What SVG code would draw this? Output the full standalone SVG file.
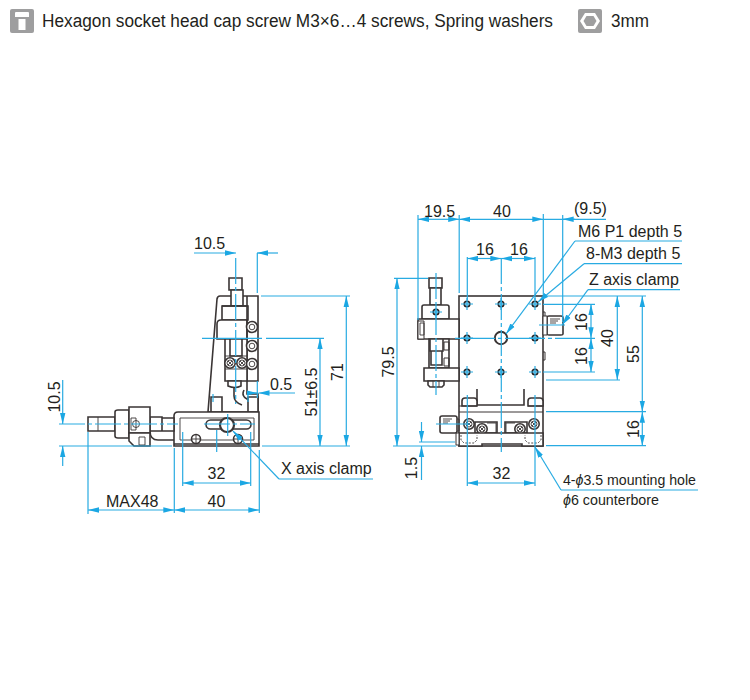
<svg xmlns="http://www.w3.org/2000/svg" width="750" height="700" viewBox="0 0 750 700">
<style>
text{font-family:"Liberation Sans",Arial,sans-serif;fill:#231f20;font-size:16px}
.h{font-size:18px}
.n{font-size:15px}
.i{font-style:italic}
.d{fill:#fff;stroke:#3a3535;stroke-width:1.6}
.o{fill:none;stroke:#3a3535;stroke-width:1.6}
.t{fill:none;stroke:#3a3535;stroke-width:.9}
.b{fill:none;stroke:#29abe2;stroke-width:1.2}
.c{fill:none;stroke:#29abe2;stroke-width:1.2;stroke-dasharray:26 3 4 3}
.a{fill:none;stroke:#29abe2;stroke-width:1.2;marker-end:url(#ah)}
</style>
<defs>
<marker id="ah" markerUnits="userSpaceOnUse" markerWidth="12" markerHeight="6" refX="11" refY="3" orient="auto"><path d="M0 .3L11 3L0 5.700Z" fill="#1ba7e3"/></marker>
<g id="sc"><circle r="5.200" class="d"/><circle r="3" class="t"/><path d="M-2-2L2 2M-2 2L2-2" class="t"/></g>
<g id="sp"><circle r="4.500" class="d"/><path d="M-4.500 0H4.500M0-4.500V4.500" class="t"/></g>
<g id="ro"><circle r="5.500" class="d" stroke-width="2"/><circle r="2.800" class="t"/></g>
<g id="ho"><circle r="2.800" fill="#bfe6f6" stroke="#231f20" stroke-width="1.600"/><path d="M-6 0H6M0-6V6" class="b"/></g>
</defs>
<g id="icon-screw"><rect x="10" y="9" width="24" height="24" rx="2" fill="#9e9e9f"/><path d="M16 12h12a1 1 0 0 1 1 1v4H15v-4a1 1 0 0 1 1-1zM18.500 19h7v11h-7z" fill="#fff"/></g>
<g id="icon-hex"><rect x="578" y="9" width="24" height="24" rx="2" fill="#9e9e9f"/><path d="M585 13h10l5 8-5 8h-10l-5-8z" fill="#fff"/><path d="M586.500 16h7l3 5-3 5h-7l-3-5z" fill="#9e9e9f"/></g>
<g id="header-text"><text class="h" x="42" y="27" textLength="511" lengthAdjust="spacingAndGlyphs">Hexagon socket head cap screw M3×6…4 screws, Spring washers</text><text class="h" x="611" y="27" textLength="38" lengthAdjust="spacingAndGlyphs">3mm</text></g>

<g id="side-view">
<path class="d" d="M208 412L217 299Q217.500 296 220 296H258V381H247V394H258V412Z"/>
<path class="d" d="M229 278h13v12h-13z"/><path class="d" d="M231 290h12v16h-12z"/>
<path class="d" d="M222 306h26v14h-26z"/><path class="o" d="M222 306h26" stroke-width="2.200"/>
<path class="d" d="M217 324q0-4 4-4h26v19H217z"/>
<path class="o" d="M247 296v85"/>
<path class="d" d="M225 339h22v42h-22z"/>
<path class="d" d="M230 339h12v17h-12z"/>
<path class="t" d="M225 356h22M225 369h22"/>
<use href="#sc" x="230" y="363"/><use href="#sc" x="242" y="363"/>
<path class="d" d="M228 381h13v5q-6 3-13 0z"/>
<path class="o" d="M234 388v8q0 6 8 9M244 390q-3 6 3 9h11"/>
<use href="#ro" x="252" y="327"/><use href="#ro" x="252" y="346"/><use href="#ro" x="252" y="364"/>
<path class="d" d="M211 412v-15h11v15zM248 412v-15h10v15z"/>
<path class="d" d="M174 416q0-4 4-4h81v34H174z"/>
<path class="t" d="M180 418h74v22h-74z"/>
<path class="o" d="M174 444h85" stroke-width="2.500"/>
<rect class="d" x="206" y="420" width="45" height="9" rx="4.500"/>
<circle class="o" cx="227" cy="425" r="7" style="fill:#fff;stroke-width:2.200"/>
<use href="#sp" x="196" y="439"/><use href="#sp" x="238" y="439"/>
<path class="d" d="M150 417h12v14h-12zM162 418h12v13h-12z"/>
<path class="o" d="M150 431q0 9 8 9h16"/>
<path class="d" d="M88 417h27v14H88z"/><path class="t" d="M98 417v14"/>
<path class="d" d="M115 412q0-2 3-2h11v28h-11q-3 0-3-2z"/>
<path class="d" d="M129 407h21v26h-21z"/>
<path class="d" d="M129 433h21v13h-16l-5-5z"/>
<path class="t" d="M139 437h6v8h-6z"/>
<circle class="t" cx="136" cy="424" r="3.500"/><path class="t" d="M131 418h5v12h-5z"/>
</g>

<g id="front-view">
<rect class="d" x="459" y="296" width="84" height="150"/>
<path class="d" d="M429 278h13v10h-13z"/><path class="d" d="M430 288h11v17h-11z"/>
<path class="d" d="M422 307q0-2 2-2h23q2 0 2 2v12h-27z"/>
<path class="d" d="M418 319h41v20h-41z"/>
<path class="d" d="M418 321h6v18h-6z" style="stroke-width:1"/>
<path class="t" d="M420 323h4v12h-4z"/>
<path class="d" d="M429 339h20v29h-20z"/>
<path class="o" d="M430 339v12h13v-12M431 351v14h11v-14"/>
<path class="o" d="M444 342h5v8h-5zM444 358h5v8h-5z" style="stroke-width:1"/>
<path class="d" d="M424 368h35v13h-35z"/>
<path class="d" d="M428 381h16v4l-2 2h-12l-2-2z"/><path class="t" d="M433 381v6M439 381v6"/>
<use href="#ho" x="436" y="312"/>
<path class="o" d="M543 312h2v6h-2M543 352h2v8h-2" style="stroke-width:1"/>
<path class="d" d="M547 317q0-1 2-1h12q2 0 2 2v16q0 1-2 1h-12q-2 0-2-1z"/>
<path class="d" d="M543 316h4v19h-4z" style="stroke-width:1"/>
<path class="t" d="M550 319h10M550 321h8M550 323h6"/>
<path class="o" d="M477 389v16h47v-16"/>
<path class="d" d="M462 406v-5q0-3 3-3h9q3 0 3 3v5zM528 406v-5q0-3 3-3h9q3 0 3 3v5z"/>
<path class="o" d="M459 406h18M528 406h15" style="stroke-width:1.200"/>
<path class="o" d="M459 412h84" style="stroke-width:1"/>
<path class="d" d="M475 422h22v11h-22zM505 422h22v11h-22z"/>
<path class="t" d="M487 423h9v10M515 423h-9v10"/>
<use href="#sc" x="469" y="424"/><use href="#sc" x="482" y="429"/><use href="#sc" x="520" y="429"/><use href="#sc" x="534" y="424"/>
<path class="d" d="M459 433h84v13H522v-2h-40v2H459z"/>
<path class="t" d="M461 435v5l3 3h10l3-3v-5M541 435v5l-3 3h-10l-3-3v-5" style="stroke-dasharray:2 1.500"/>
<path class="d" d="M456 433h3v12h-3z" style="stroke-width:1"/>
<path class="d" d="M442 416h13q2 0 2 2v13q0 2-2 2h-13q-2 0-2-2v-13q0-2 2-2z"/><path class="t" d="M457 419h2v12h-2M443 419h9M443 421h7M443 423h5"/>
<g><use href="#ho" x="467" y="304"/><use href="#ho" x="501" y="304"/><use href="#ho" x="535" y="304"/><use href="#ho" x="467" y="338"/><use href="#ho" x="535" y="338"/><use href="#ho" x="467" y="372"/><use href="#ho" x="501" y="372"/><use href="#ho" x="535" y="372"/></g>
<circle class="o" cx="501" cy="338" r="6.200" style="stroke-width:2"/>
</g>

<g id="connectors">
<path class="a" d="M194 253H236"/><path class="a" d="M278 253H257"/>
<path class="c" d="M235.700 258V404"/>
<path class="b" d="M257.300 253V293M257.300 381V398"/>
<path class="b" d="M261 296H350"/><path class="a" d="M346.300 330V296"/><path class="a" d="M346.300 330V446"/>
<path class="b" d="M202 338.300H262M266 338.300H324"/>
<path class="a" d="M320 395V338.300"/><path class="a" d="M320 395V446"/>
<path class="b" d="M59 446H172M262 446H350"/>
<path class="a" d="M62.700 380V424"/><path class="a" d="M62.700 466V446"/>
<path class="c" d="M59 424H178M204 424H255"/>
<path class="b" d="M227.700 414V436M216.700 430V452M213 394V402M248 394V402"/>
<path class="a" d="M247 393H257.500"/><path class="a" d="M295 393H258.500"/>
<path class="b" d="M88 432V514M174.300 448V513M182.700 432V486M250.700 432V486M259.300 450V513"/>
<path class="a" d="M216 483H182.700"/><path class="a" d="M216 483H250.700"/>
<path class="a" d="M130 510H88"/><path class="a" d="M130 510H174.300"/>
<path class="a" d="M216 510H174.300"/><path class="a" d="M216 510H259.300"/>
<path class="b" d="M279 479H373"/><path class="a" d="M279 479L233 431"/>

<path class="b" d="M418 215V320M459.200 215V293M543.300 214V296M562.700 215V322"/>
<path class="a" d="M438 219.300H418"/><path class="a" d="M438 219.300H459.200"/>
<path class="a" d="M500 219.300H459.200"/><path class="a" d="M500 219.300H543.300"/>
<path class="b" d="M543.300 219.300H606"/><path class="a" d="M575 219.300H562.700"/>
<path class="b" d="M467.300 257V300M535 257V300"/>
<path class="a" d="M484 258.500H467.300"/><path class="a" d="M484 258.500H501.300"/>
<path class="a" d="M518 258.500H501.300"/><path class="a" d="M518 258.500H535"/>
<path class="c" d="M501.300 258V452"/><path class="c" d="M436 273V395"/>
<path class="b" d="M394 278.300H428M393 446H456M419 442H455"/>
<path class="a" d="M397 360V278.300"/><path class="a" d="M397 360V446"/>
<path class="a" d="M421.500 422V442"/><path class="a" d="M421.500 480V446"/>
<path class="b" d="M575 241H682"/><path class="a" d="M575 241L506 334"/>
<path class="b" d="M584 263.700H682"/><path class="a" d="M584 263.700L538 302"/>
<path class="b" d="M588 289.700H680"/><path class="a" d="M588 289.700L562 325"/>
<path class="b" d="M539 325H565M436 424H470"/>
<path class="c" d="M455 338.300H560" style="stroke-dasharray:40 3 4 3"/>
<path class="b" d="M546 296H646M543 304.300H595M560 338.300H595M543 372H595M546 380H620M546 411.700H646M546 445.700H646"/>
<path class="a" d="M591 321V304.300"/><path class="a" d="M591 321V338.300"/><path class="a" d="M591 355V338.300"/><path class="a" d="M591 355V372"/>
<path class="a" d="M617.300 338V296"/><path class="a" d="M617.300 338V380"/>
<path class="a" d="M642.300 350V296"/><path class="a" d="M642.300 350V411.700"/>
<path class="a" d="M642.300 429V411.700"/><path class="a" d="M642.300 429V445.700"/>
<path class="b" d="M467.300 395V486M535 395V486"/>
<path class="a" d="M501 483H467.300"/><path class="a" d="M501 483H535"/>
<path class="b" d="M561 490H698"/><path class="a" d="M561 490L535 447"/>
</g>

<g id="labels">
<text x="194" y="249">10.5</text>
<text x="270" y="390">0.5</text>
<text transform="translate(343 372) rotate(-90)" text-anchor="middle">71</text>
<text transform="translate(317 392) rotate(-90)" text-anchor="middle">51±6.5</text>
<text transform="translate(60 397) rotate(-90)" text-anchor="middle">10.5</text>
<text x="216.500" y="479" text-anchor="middle">32</text>
<text x="216.500" y="507" text-anchor="middle">40</text>
<text x="106" y="507">MAX48</text>
<text x="281" y="474">X axis clamp</text>
<text x="424" y="217">19.5</text>
<text x="493" y="217">40</text>
<text x="476" y="255">16</text>
<text x="510" y="255">16</text>
<text x="574" y="214">(9.5)</text>
<text x="578" y="237">M6 P1 depth 5</text>
<text x="586" y="259">8-M3 depth 5</text>
<text x="589" y="285">Z axis clamp</text>
<text transform="translate(587 322) rotate(-90)" text-anchor="middle">16</text>
<text transform="translate(587 356) rotate(-90)" text-anchor="middle">16</text>
<text transform="translate(613 338) rotate(-90)" text-anchor="middle">40</text>
<text transform="translate(639 354) rotate(-90)" text-anchor="middle">55</text>
<text transform="translate(639 429) rotate(-90)" text-anchor="middle">16</text>
<text transform="translate(394 362) rotate(-90)" text-anchor="middle">79.5</text>
<text transform="translate(417 468) rotate(-90)" text-anchor="middle">1.5</text>
<text x="501.500" y="479" text-anchor="middle">32</text>
<text class="n" x="563" y="485" textLength="133" lengthAdjust="spacingAndGlyphs">4-<tspan class="i">ϕ</tspan>3.5 mounting hole</text>
<text class="n" x="563" y="505" textLength="96" lengthAdjust="spacingAndGlyphs"><tspan class="i">ϕ</tspan>6 counterbore</text>
</g>
</svg>
